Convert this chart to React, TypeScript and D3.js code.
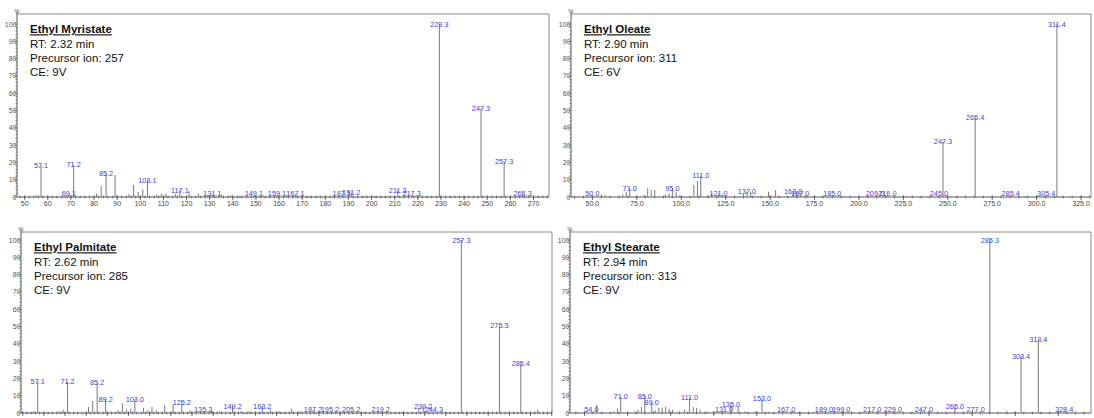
import React from "react";
import * as d3 from "d3";

// peak lists (m/z, relative %)
const myristateMz = [55.1, 57.1, 69.1, 71.2, 81.1, 83.1, 85.2, 89.1, 95.1, 97.1, 99.1, 101.1, 103.1, 107.1, 109.1, 111.1, 115.1, 117.1, 121.1, 125.1, 129.1, 131.1, 135.1, 139.1, 143.1, 149.1, 153.1, 159.1, 163.1, 167.1, 173.1, 177.1, 183.1, 187.1, 191.2, 201.2, 211.3, 217.3, 229.3, 247.3, 257.3, 265.3];
const myristateInt = [1.0, 18, 1.5, 18.5, 2, 6.5, 13.3, 12.7, 1.5, 7, 3, 4.4, 9.8, 1.5, 2, 2, 2, 4, 3.5, 2, 1, 1.5, 1.5, 1, 0.8, 1, 0.8, 1, 0.8, 1.5, 0.7, 0.7, 0.7, 1.2, 2.5, 0.6, 4, 1, 100, 51, 20.4, 2];
const myristateLabeled = [57.1, 69.1, 71.2, 85.2, 103.1, 117.1, 131.1, 149.1, 159.1, 167.1, 187.1, 191.2, 211.3, 217.3, 229.3, 247.3, 257.3, 265.3];

const oleateMz = [50.0, 55.1, 57.1, 67.1, 69.1, 71.0, 79.1, 81.1, 83.1, 85.1, 91.1, 93.1, 95.0, 97.1, 99.1, 107.1, 109.1, 111.0, 115.1, 117.1, 121.0, 123.1, 125.1, 135.1, 137.0, 139.1, 149.1, 153.1, 163.0, 165.1, 167.0, 171.1, 179.1, 185.0, 191.1, 209.0, 216.0, 227.2, 245.0, 247.3, 255.2, 265.4, 285.4, 293.3, 305.4, 311.4];
const oleateInt = [0.5, 1.5, 1.0, 1.5, 3, 5, 1.2, 5, 4, 4, 1.5, 2, 5, 3, 1, 7, 9.2, 12.3, 1, 2, 2, 1.5, 1, 2, 3, 3, 3, 4, 3, 2, 1.5, 0.8, 0.6, 0.5, 0.5, 0.5, 0.5, 0.5, 0.5, 32, 0.6, 46, 0.5, 0.5, 0.5, 100];
const oleateLabeled = [50.0, 71.0, 95.0, 111.0, 121.0, 137.0, 163.0, 167.0, 185.0, 209.0, 216.0, 245.0, 247.3, 265.4, 285.4, 305.4, 311.4];

const palmitateMz = [55.1, 57.1, 67.1, 69.1, 71.2, 81.1, 83.1, 85.2, 89.2, 95.1, 97.1, 99.1, 101.1, 103.0, 107.1, 109.1, 111.1, 113.1, 117.1, 121.1, 125.2, 129.1, 135.3, 139.1, 143.1, 149.2, 153.1, 157.1, 163.2, 167.1, 171.1, 177.1, 181.1, 187.2, 195.2, 201.2, 205.2, 211.2, 219.2, 229.2, 237.2, 239.2, 244.3, 257.3, 275.3, 285.4, 293.3];
const palmitateInt = [1, 18, 1, 2, 18, 3.5, 7, 17.5, 8, 1.5, 5.6, 2, 2.5, 8, 3, 1.5, 3.5, 1.5, 4.5, 5, 6, 1.5, 1, 1.5, 1, 4, 1, 1, 4, 2, 1, 2.5, 1, 1.5, 0.5, 0.6, 0.5, 0.6, 0.5, 0.6, 3, 3.5, 0.5, 100, 50.3, 28.7, 2];
const palmitateLabeled = [57.1, 71.2, 85.2, 89.2, 103.0, 125.2, 135.3, 149.2, 163.2, 187.2, 195.2, 205.2, 219.2, 239.2, 244.3, 257.3, 275.3, 285.4];

const stearateMz = [54.0, 57.1, 67.1, 69.1, 71.0, 79.1, 81.1, 83.1, 85.0, 89.0, 91.1, 93.1, 95.1, 97.1, 99.1, 101.1, 105.1, 108.1, 111.0, 113.1, 115.1, 117.1, 121.1, 125.1, 131.0, 135.0, 139.1, 143.1, 149.1, 153.0, 157.1, 163.1, 167.0, 171.1, 183.1, 189.0, 199.0, 209.1, 217.0, 229.0, 239.2, 247.0, 257.2, 265.0, 277.0, 285.3, 295.3, 303.4, 313.4, 328.4];
const stearateInt = [0.5, 4.8, 1, 2.5, 9.3, 1, 2, 3.5, 9.6, 6, 1.5, 3, 3, 3.5, 2.5, 2, 1, 2, 8.7, 3.5, 3, 2, 1, 1, 1, 4.8, 3.5, 1, 1, 8.3, 0.8, 0.8, 1, 0.6, 0.5, 0.5, 0.5, 0.5, 1, 0.5, 0.5, 1.5, 0.6, 3.8, 0.5, 100, 0.8, 32.8, 42.7, 0.5];
const stearateLabeled = [54.0, 71.0, 85.0, 89.0, 111.0, 131.0, 135.0, 153.0, 167.0, 189.0, 199.0, 217.0, 229.0, 247.0, 265.0, 277.0, 285.3, 303.4, 313.4, 328.4];

const yTicks = [0, 10, 20, 30, 40, 50, 60, 70, 80, 90, 100];

// bottom row: tick labels fall below the window, so only the tick marks show
const panels = [
  {
    name: "Ethyl Myristate", rt: "RT: 2.32 min", prec: "Precursor ion: 257", ce: "CE: 9V",
    mz: myristateMz, inten: myristateInt, labeled: myristateLabeled,
    xDomain: [46.7, 276.7], ticks: d3.range(50, 271, 10), fmt: d3.format("d"), minor: 2, tickLabels: true,
    left: 17, right: 549, top: 14, bottom: 197,
  },
  {
    name: "Ethyl Oleate", rt: "RT: 2.90 min", prec: "Precursor ion: 311", ce: "CE: 6V",
    mz: oleateMz, inten: oleateInt, labeled: oleateLabeled,
    xDomain: [37.95, 330.6], ticks: d3.range(50, 326, 25), fmt: d3.format(".1f"), minor: 5, tickLabels: true,
    left: 571, right: 1091, top: 14, bottom: 197,
  },
  {
    name: "Ethyl Palmitate", rt: "RT: 2.62 min", prec: "Precursor ion: 285", ce: "CE: 9V",
    mz: palmitateMz, inten: palmitateInt, labeled: palmitateLabeled,
    xDomain: [49.2, 300.15], ticks: d3.range(50, 301, 10), fmt: d3.format("d"), minor: 2, tickLabels: false,
    left: 21, right: 552, top: 232, bottom: 413,
  },
  {
    name: "Ethyl Stearate", rt: "RT: 2.94 min", prec: "Precursor ion: 313", ce: "CE: 9V",
    mz: stearateMz, inten: stearateInt, labeled: stearateLabeled,
    xDomain: [41.57, 344.0], ticks: d3.range(50, 341, 25), fmt: d3.format(".1f"), minor: 5, tickLabels: false,
    left: 570, right: 1091, top: 232, bottom: 413,
  },
];

const FONT = "'Liberation Sans', Arial, sans-serif";
const AXIS = "#555";
const FRAME = "#8a8a8a";
const PEAK = "#7a7a7a";
const LABEL = "#4040e6";

function Spectrum({ p }: { p: any }) {
  const x = d3.scaleLinear().domain(p.xDomain).range([p.left, p.right]);
  const y = d3.scaleLinear().domain([0, 100]).range([p.bottom, p.bottom - 173]);
  const minorX = d3.range(Math.ceil(p.xDomain[0] / p.minor) * p.minor, p.xDomain[1], p.minor);
  const minorY = d3.range(0, 101, 2);
  const tx = p.left + 13;
  const ty = p.top + 19.3;

  return (
    <g fontFamily={FONT}>
      {/* frame */}
      <line x1={p.left} x2={p.right} y1={p.top} y2={p.top} stroke={FRAME} />
      <line x1={p.right} x2={p.right} y1={p.top} y2={p.bottom} stroke={FRAME} />
      <line x1={p.left} x2={p.left} y1={p.top - 2} y2={p.bottom} stroke={AXIS} />
      <line x1={p.left} x2={p.right} y1={p.bottom} y2={p.bottom} stroke={AXIS} />
      <text x={p.left} y={p.top - 1} fontSize={6} fill={AXIS} textAnchor="middle">%</text>

      {/* y axis */}
      {minorY.map((v) => (
        <line key={"my" + v} x1={p.left - (v % 10 === 0 ? 3 : 1.5)} x2={p.left} y1={y(v)} y2={y(v)} stroke={AXIS} strokeWidth={0.7} />
      ))}
      {yTicks.map((v) => (
        <text key={"yt" + v} x={p.left - 0.5} y={y(v) + 2.5} fontSize={7} fill="#555" textAnchor="end">{v}</text>
      ))}

      {/* x axis */}
      {minorX.map((v) => (
        <line key={"mx" + v} x1={x(v)} x2={x(v)} y1={p.bottom - 1.5} y2={p.bottom + 1.5} stroke={AXIS} strokeWidth={0.7} />
      ))}
      {p.ticks.map((v: number) => (
        <g key={"xt" + v}>
          <line x1={x(v)} x2={x(v)} y1={p.bottom - 1.5} y2={p.bottom + 3} stroke={AXIS} strokeWidth={0.8} />
          {p.tickLabels && (
            <text x={x(v)} y={p.bottom + 9} fontSize={7} fill="#444" textAnchor="middle">{p.fmt(v)}</text>
          )}
        </g>
      ))}

      {/* peaks */}
      {p.mz.map((m: number, i: number) => (
        <line key={"pk" + i} x1={x(m)} x2={x(m)} y1={p.bottom} y2={y(p.inten[i])} stroke={PEAK} strokeWidth={1} />
      ))}
      {p.mz.map((m: number, i: number) =>
        p.labeled.includes(m) ? (
          <text key={"lb" + i} x={x(m)} y={Math.min(y(p.inten[i]) + 2.5, p.bottom - 1)} fontSize={7.3} fill={LABEL} textAnchor="middle">
            {m.toFixed(1)}
          </text>
        ) : null
      )}

      {/* annotation */}
      <text x={tx} y={ty} fontSize={11.5} fontWeight="bold" fill="#111" style={{ textDecoration: "underline" }}>{p.name}</text>
      <text x={tx} y={ty + 14.2} fontSize={11.5} fill="#111">{p.rt}</text>
      <text x={tx} y={ty + 28.4} fontSize={11.5} fill="#111">{p.prec}</text>
      <text x={tx} y={ty + 42.6} fontSize={11.5} fill="#111">{p.ce}</text>
    </g>
  );
}

export default function App() {
  return (
    <svg width={1094} height={418} style={{ position: "absolute", left: 0, top: 0, background: "#fff" }}>
      <rect width={1094} height={418} fill="#fff" />
      {panels.map((p) => (
        <Spectrum key={p.name} p={p} />
      ))}
    </svg>
  );
}
